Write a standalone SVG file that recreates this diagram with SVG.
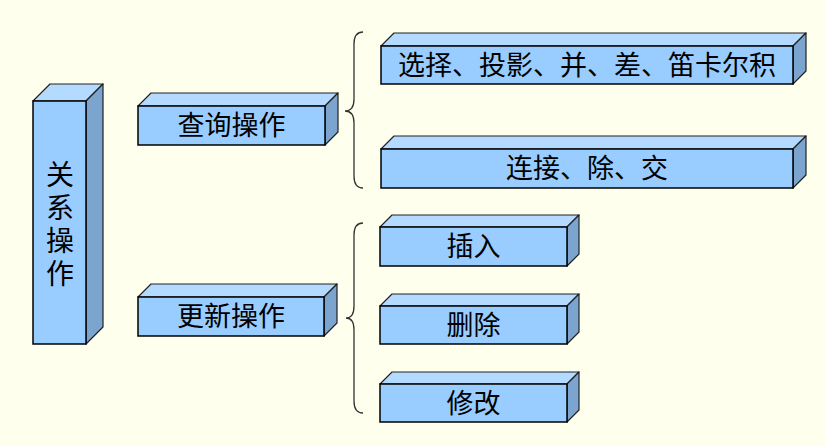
<svg xmlns="http://www.w3.org/2000/svg" width="826" height="446" viewBox="0 0 826 446">
<style>
.front{fill:#99CCFF;stroke:#000;stroke-width:1.5}
.top{fill:#B5DAFF;stroke:#222;stroke-width:1.2;stroke-linejoin:round}
.side{fill:#7BA5CF;stroke:#222;stroke-width:1.2;stroke-linejoin:round}
.lbl{font-family:"Noto Sans CJK SC","Noto Sans",sans-serif;font-size:27px;fill:#000;text-anchor:middle}
.brace{fill:none;stroke:#333;stroke-width:1.3}
</style>
<rect width="826" height="446" fill="#FFFFEE"/>
<g id="n-main">
<polygon class="top" points="33,101 50,84 103,84 86,101"/>
<polygon class="side" points="86,101 103,84 103,327 86,344"/>
<rect class="front" x="33" y="101" width="53" height="243"/>
<text class="lbl" style="font-size:28px;writing-mode:vertical-rl;letter-spacing:5px" x="60" y="226">关系操作</text>
</g>
<g id="n-query">
<polygon class="top" points="138,106 151,93 338,93 325,106"/>
<polygon class="side" points="325,106 338,93 338,132 325,145"/>
<rect class="front" x="138" y="106" width="187" height="39"/>
<text class="lbl" x="231.5" y="135">查询操作</text>
</g>
<g id="n-update">
<polygon class="top" points="138,297 151,284 337,284 324,297"/>
<polygon class="side" points="324,297 337,284 337,323 324,336"/>
<rect class="front" x="138" y="297" width="186" height="39"/>
<text class="lbl" x="231" y="326">更新操作</text>
</g>
<g id="n-sel">
<polygon class="top" points="381,46 394,33 806,33 793,46"/>
<polygon class="side" points="793,46 806,33 806,71 793,84"/>
<rect class="front" x="381" y="46" width="412" height="38"/>
<text class="lbl" x="587" y="74.5">选择、投影、并、差、笛卡尔积</text>
</g>
<g id="n-join">
<polygon class="top" points="381,149 394,136 806,136 793,149"/>
<polygon class="side" points="793,149 806,136 806,175 793,188"/>
<rect class="front" x="381" y="149" width="412" height="39"/>
<text class="lbl" x="587" y="178">连接、除、交</text>
</g>
<g id="n-insert">
<polygon class="top" points="380,227 392,215 579,215 567,227"/>
<polygon class="side" points="567,227 579,215 579,254 567,266"/>
<rect class="front" x="380" y="227" width="187" height="39"/>
<text class="lbl" x="473.5" y="256">插入</text>
</g>
<g id="n-delete">
<polygon class="top" points="380,306 392,294 579,294 567,306"/>
<polygon class="side" points="567,306 579,294 579,332 567,344"/>
<rect class="front" x="380" y="306" width="187" height="38"/>
<text class="lbl" x="473.5" y="334.5">删除</text>
</g>
<g id="n-modify">
<polygon class="top" points="380,384 392,372 579,372 567,384"/>
<polygon class="side" points="567,384 579,372 579,410 567,422"/>
<rect class="front" x="380" y="384" width="187" height="38"/>
<text class="lbl" x="473.5" y="412.5">修改</text>
</g>
<g id="connectors">
<path class="brace" d="M363,32 Q354,32 354,44 L354,99 Q354,111 345,111 Q354,111 354,123 L354,176 Q354,188 363,188"/>
<path class="brace" d="M363,223 Q354,223 354,235 L354,306 Q354,318 346,318 Q354,318 354,330 L354,401 Q354,413 363,413"/>
</g>
</svg>
